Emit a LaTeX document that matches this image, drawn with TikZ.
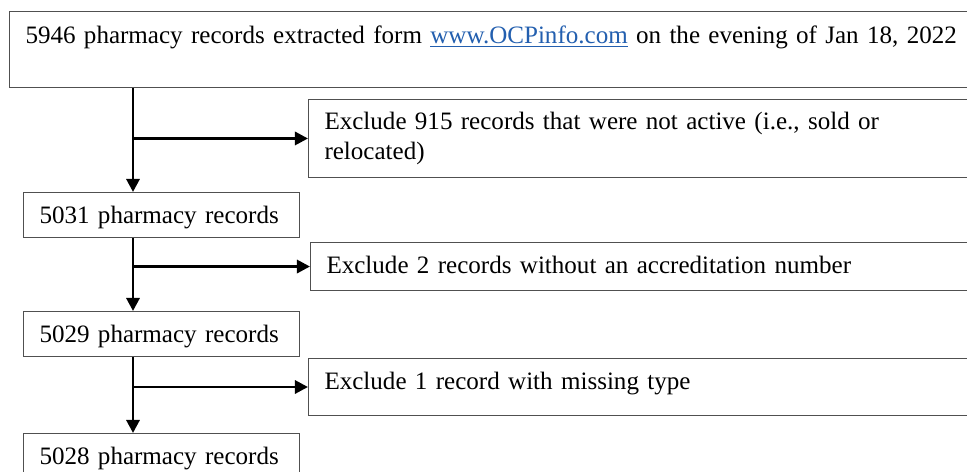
\documentclass[tikz,border=0pt]{standalone}
\usepackage{fontspec}
\setmainfont{Liberation Serif}
\usepackage{xcolor}
\usetikzlibrary{arrows.meta,positioning,calc}
\definecolor{linkblue}{RGB}{35,95,175}
\definecolor{boxgray}{RGB}{80,80,80}

\begin{document}
\begin{tikzpicture}[x=0.475pt,y=-0.475pt,
        font=\fontsize{11.9}{13.8}\selectfont,
        >={Triangle[length=6.2pt,width=6.2pt]},
        box/.style = {draw=boxgray,line width=0.5pt,anchor=north west,align=left,
                      inner xsep=7.6pt,inner ysep=0pt},
        rowbox/.style = {box,text height=14.7pt,text depth=#1},
        countbox/.style = {rowbox=#1,text width=115.8pt},
        exclbox/.style = {text width=324.8pt},
        flow/.style = {->,line width=1.4pt}
        ]

        \useasboundingbox (0,0) rectangle (967,471);
        \clip (0,0) rectangle (967,471);

        %Records
        \node[rowbox=20.9pt,text height=15.2pt,text width=464.8pt] (src) at (9,11)
            {5946 pharmacy records extracted form \textcolor{linkblue}{\underline{www.OCPinfo.com}} on the evening of Jan 18, 2022};
        \node[countbox=6.65pt] (n5031) at (23,192) {5031 pharmacy records};
        \node[countbox=6.65pt] (n5029) at (23,311) {5029 pharmacy records};
        \node[countbox=6.65pt] (n5028) at (23,433) {5028 pharmacy records};

        %Exclusions
        \node[box,exclbox,minimum height=37pt] (ex1) at (308,99)
            {Exclude 915 records that were not active (i.e., sold or\\relocated)};
        \node[rowbox=8.1pt,exclbox] (ex2) at (310,242) {Exclude 2 records without an accreditation number};
        \node[rowbox=12.35pt,exclbox] (ex3) at (308,358) {Exclude 1 record with missing type};

        %Arrows
        \node[coordinate] (spine) at (133,0) {};
        \draw[flow] (src.south -| spine) -- (n5031.north -| spine);
        \draw[flow] (n5031.south -| spine) -- (n5029.north -| spine);
        \draw[flow] (n5029.south -| spine) -- (n5028.north -| spine);
        \foreach \e in {ex1,ex2,ex3}
        \draw[flow] (\e.west -| spine) -- (\e.west);

\end{tikzpicture}
\end{document}
